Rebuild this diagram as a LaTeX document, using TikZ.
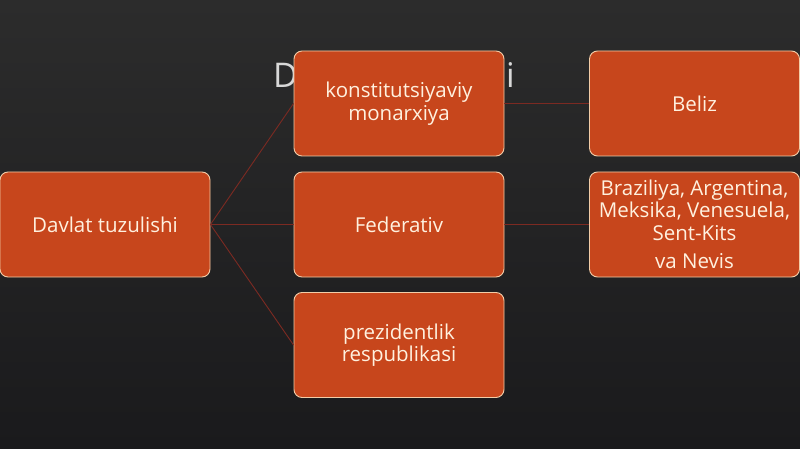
\documentclass[tikz,border=0pt]{standalone}
\usepackage{fontspec}
\setmainfont{Open Sans}
\begin{document}
\begin{tikzpicture}[x=1pt,y=-1pt,
  box/.style={draw=boxline, line width=0.9pt, fill=boxfill, rounded corners=8pt,
    minimum width=210pt, minimum height=105pt, inner sep=0pt, align=center,
    text=boxtext, font=\fontsize{20.5}{22.5}\selectfont},
  link/.style={draw=linkcol, line width=0.9pt}]
\definecolor{boxfill}{HTML}{C7461C}
\definecolor{boxline}{HTML}{F2CDA8}
\definecolor{boxtext}{HTML}{FFF1DF}
\definecolor{linkcol}{HTML}{7C2A22}
\definecolor{bgtop}{HTML}{2C2C2C}
\definecolor{bgbot}{HTML}{1A1A1C}
\definecolor{titlecol}{HTML}{D8D8D8}
\useasboundingbox (0,0) rectangle (800,449);
\shade[top color=bgtop, bottom color=bgbot] (0,0) rectangle (800,449);
\node[text=titlecol, font=\fontsize{34}{40}\selectfont, anchor=base] (title) at (394,88) {Davlat tuzulishi};
\node[box] (root) at (105,224.5) {Davlat tuzulishi};
\node[box] (konst) at (399,103.5) {konstitutsiyaviy\\monarxiya};
\node[box] (fed) at (399,224.5) {Federativ};
\node[box] (prez) at (399,345) {prezidentlik\\respublikasi};
\node[box] (beliz) at (694.5,103.5) {Beliz};
\node[box] (braz) at (694.5,224.5) {Braziliya, Argentina,\\Meksika, Venesuela,\\Sent-Kits\\[6pt]va Nevis};
\path[link] (root.east) -- (konst.west);
\path[link] (root.east) -- (fed.west);
\path[link] (root.east) -- (prez.west);
\path[link] (konst.east) -- (beliz.west);
\path[link] (fed.east) -- (braz.west);
\end{tikzpicture}
\end{document}
